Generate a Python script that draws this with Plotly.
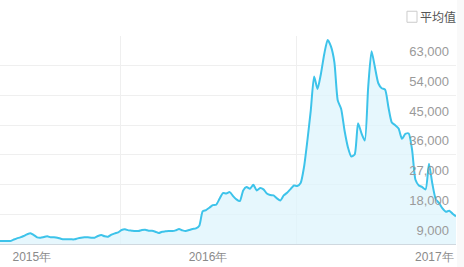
import pandas as pd
import plotly.graph_objects as go

# weekly index values
start_date = "2014-10-27"
values = [
    9900, 9900, 9900, 9900, 10310, 10710, 11020, 11420, 11920, 12230,
    11720, 11020, 10920, 11120, 11320, 11020, 11020, 10920, 10610, 10410,
    10410, 10410, 10410, 10710, 10920, 11020, 11020, 10920, 10920, 11420,
    11720, 11320, 11220, 11820, 12230, 12530, 13230, 13440, 13130, 13030,
    12930, 12930, 13230, 13330, 13030, 13030, 12730, 12330, 12730, 12830,
    12930, 12930, 13130, 13540, 13130, 12930, 13230, 13540, 13740, 14540,
    18880, 19280, 19990, 20790, 20890, 22710, 24420, 24320, 24720, 23520,
    22510, 22000, 25230, 26240, 25730, 26940, 25230, 25930, 25530, 24320,
    23820, 23720, 22810, 22200, 23720, 24520, 25630, 26740, 26540, 27450,
    32280, 40350, 49420, 59700, 55970, 60510, 66560, 70790, 68770, 64040,
    52440, 49920, 43370, 38330, 35510, 36120, 45590, 42570, 40350, 56480,
    67360, 62520, 57690, 56170, 55770, 50430, 45790, 44990, 43980, 40850,
    42360, 42470, 37530, 28450, 26740, 26240, 25530, 33290, 27240, 22610,
    21400, 19790, 18780, 19080, 18170, 17370,
]
dates = pd.date_range(start_date, periods=len(values), freq="7D")

y_ticks = [9000, 18000, 27000, 36000, 45000, 54000, 63000, 72000]
y_labels = ["9,000", "18,000", "27,000", "36,000", "45,000", "54,000", "63,000", ""]
x_tick_dates = ["2015-01-01", "2016-01-01"]
x_tick_labels = ["2015年", "2016年"]
last_year_label = "2017年"
x_grid_dates = ["2015-07-04", "2016-07-03"]
legend_label = "平均值"

fig = go.Figure()
fig.add_trace(go.Scatter(
    x=dates, y=values, mode="lines",
    line=dict(color="#3dc3ea", width=2, shape="spline", smoothing=0.6),
    fill="tozeroy", fillcolor="rgba(222,244,252,0.75)",
    hoverinfo="skip", showlegend=False,
))

fig.update_layout(
    width=464, height=267,
    margin=dict(l=0, r=8, t=36, b=23, pad=0),
    paper_bgcolor="white", plot_bgcolor="white",
    font=dict(family="Liberation Sans, Arial, sans-serif", color="#999999"),
    xaxis=dict(
        type="date",
        range=[dates[0], pd.Timestamp("2017-05-29")],
        tickmode="array", tickvals=x_tick_dates, ticktext=x_tick_labels,
        showgrid=False, ticks="", tickfont=dict(size=12, color="#8a8a8a"),
        ticklabelstandoff=2,
        showline=True, linecolor="#cfd8df", linewidth=1,
        minor=dict(tickmode="array", tickvals=x_grid_dates, showgrid=True,
                   gridcolor="#efefef", gridwidth=1, ticks=""),
        zeroline=False, fixedrange=True,
    ),
    yaxis=dict(
        range=[9000, 72000],
        tickmode="array", tickvals=y_ticks, ticktext=y_labels,
        side="right", ticklabelposition="inside", ticklabelshift=-14,
        ticklabelstandoff=4,
        showgrid=True, gridcolor="#efefef", gridwidth=1,
        ticks="", tickfont=dict(size=13, color="#9a9a9a"),
        zeroline=False, showline=False, fixedrange=True,
    ),
    shapes=[
        dict(type="rect", xref="paper", yref="paper",
             x0=0.8925, x1=0.9145, y0=1.066, y1=1.119,
             line=dict(color="#cccccc", width=1), fillcolor="white"),
        dict(type="rect", xref="paper", yref="paper",
             x0=1.002, x1=1.03, y0=-0.12, y1=1.18,
             line=dict(width=0), fillcolor="#f9f9f9", layer="below"),
    ],
    annotations=[
        dict(text=legend_label, xref="paper", yref="paper",
             x=1.0, y=1.092, xanchor="right", yanchor="middle", xshift=2,
             showarrow=False, font=dict(size=12, color="#555555",
                                        family="Noto Sans CJK SC, sans-serif")),
        dict(text=last_year_label, xref="paper", yref="paper",
             x=1.0, y=0, xanchor="right", yanchor="middle", yshift=-13,
             showarrow=False, font=dict(size=12, color="#8a8a8a")),
    ],
)

fig.write_html("out.html")
